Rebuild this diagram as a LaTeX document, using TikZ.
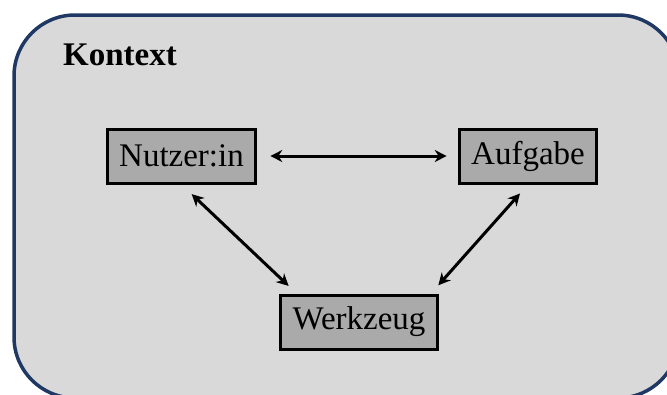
\documentclass[tikz,border=0pt]{standalone}
\usepackage{fontspec}
\setmainfont{Liberation Serif}
\usetikzlibrary{arrows.meta,calc,positioning}
\definecolor{ctxfill}{RGB}{217,217,217}
\definecolor{ctxborder}{RGB}{31,56,100}
\definecolor{boxgray}{RGB}{170,170,170}

\begin{document}
\begin{tikzpicture}[x=1pt,y=-1pt,>={Stealth[length=12pt,width=12pt]},
  roleBox/.style={draw=black,fill=boxgray,line width=3pt,minimum height=54pt,
    inner xsep=12pt,font=\fontsize{33}{36}\selectfont},
  link/.style={<->,line width=3pt}]

%% ── canvas ───────────────────────────────────────────────────────────────────
\useasboundingbox (0,0) rectangle (667,394);
\begin{scope}
\clip (0,0) rectangle (667,394);
\draw[ctxborder,fill=ctxfill,line width=3.5pt,rounded corners=61pt]
  (14,15) rectangle (679,398);
\end{scope}

%% context label
\node[anchor=base west,font=\fontsize{33}{36}\selectfont\bfseries,inner sep=0pt]
  (kontext) at (63,65) {Kontext};

%% ── the three elements ───────────────────────────────────────────────────────
\node[roleBox] (nutzer)   at (181.5,156) {Nutzer:in};
\node[roleBox] (aufgabe)  at (528,156)   {Aufgabe};
\node[roleBox] (werkzeug) at (359,322)   {Werkzeug};

%% ── relations ────────────────────────────────────────────────────────────────
\draw[link,shorten <=13pt,shorten >=11pt] (nutzer.east) -- (aufgabe.west);
\draw[link,shorten <=14pt,shorten >=11pt]
  (nutzer.south) -- ($(werkzeug.north west)!0.11!(werkzeug.north east)$);
\draw[link,shorten <=12pt,shorten >=11pt]
  (aufgabe.south) -- ($(werkzeug.north west)!0.95!(werkzeug.north east)$);

\end{tikzpicture}
\end{document}
